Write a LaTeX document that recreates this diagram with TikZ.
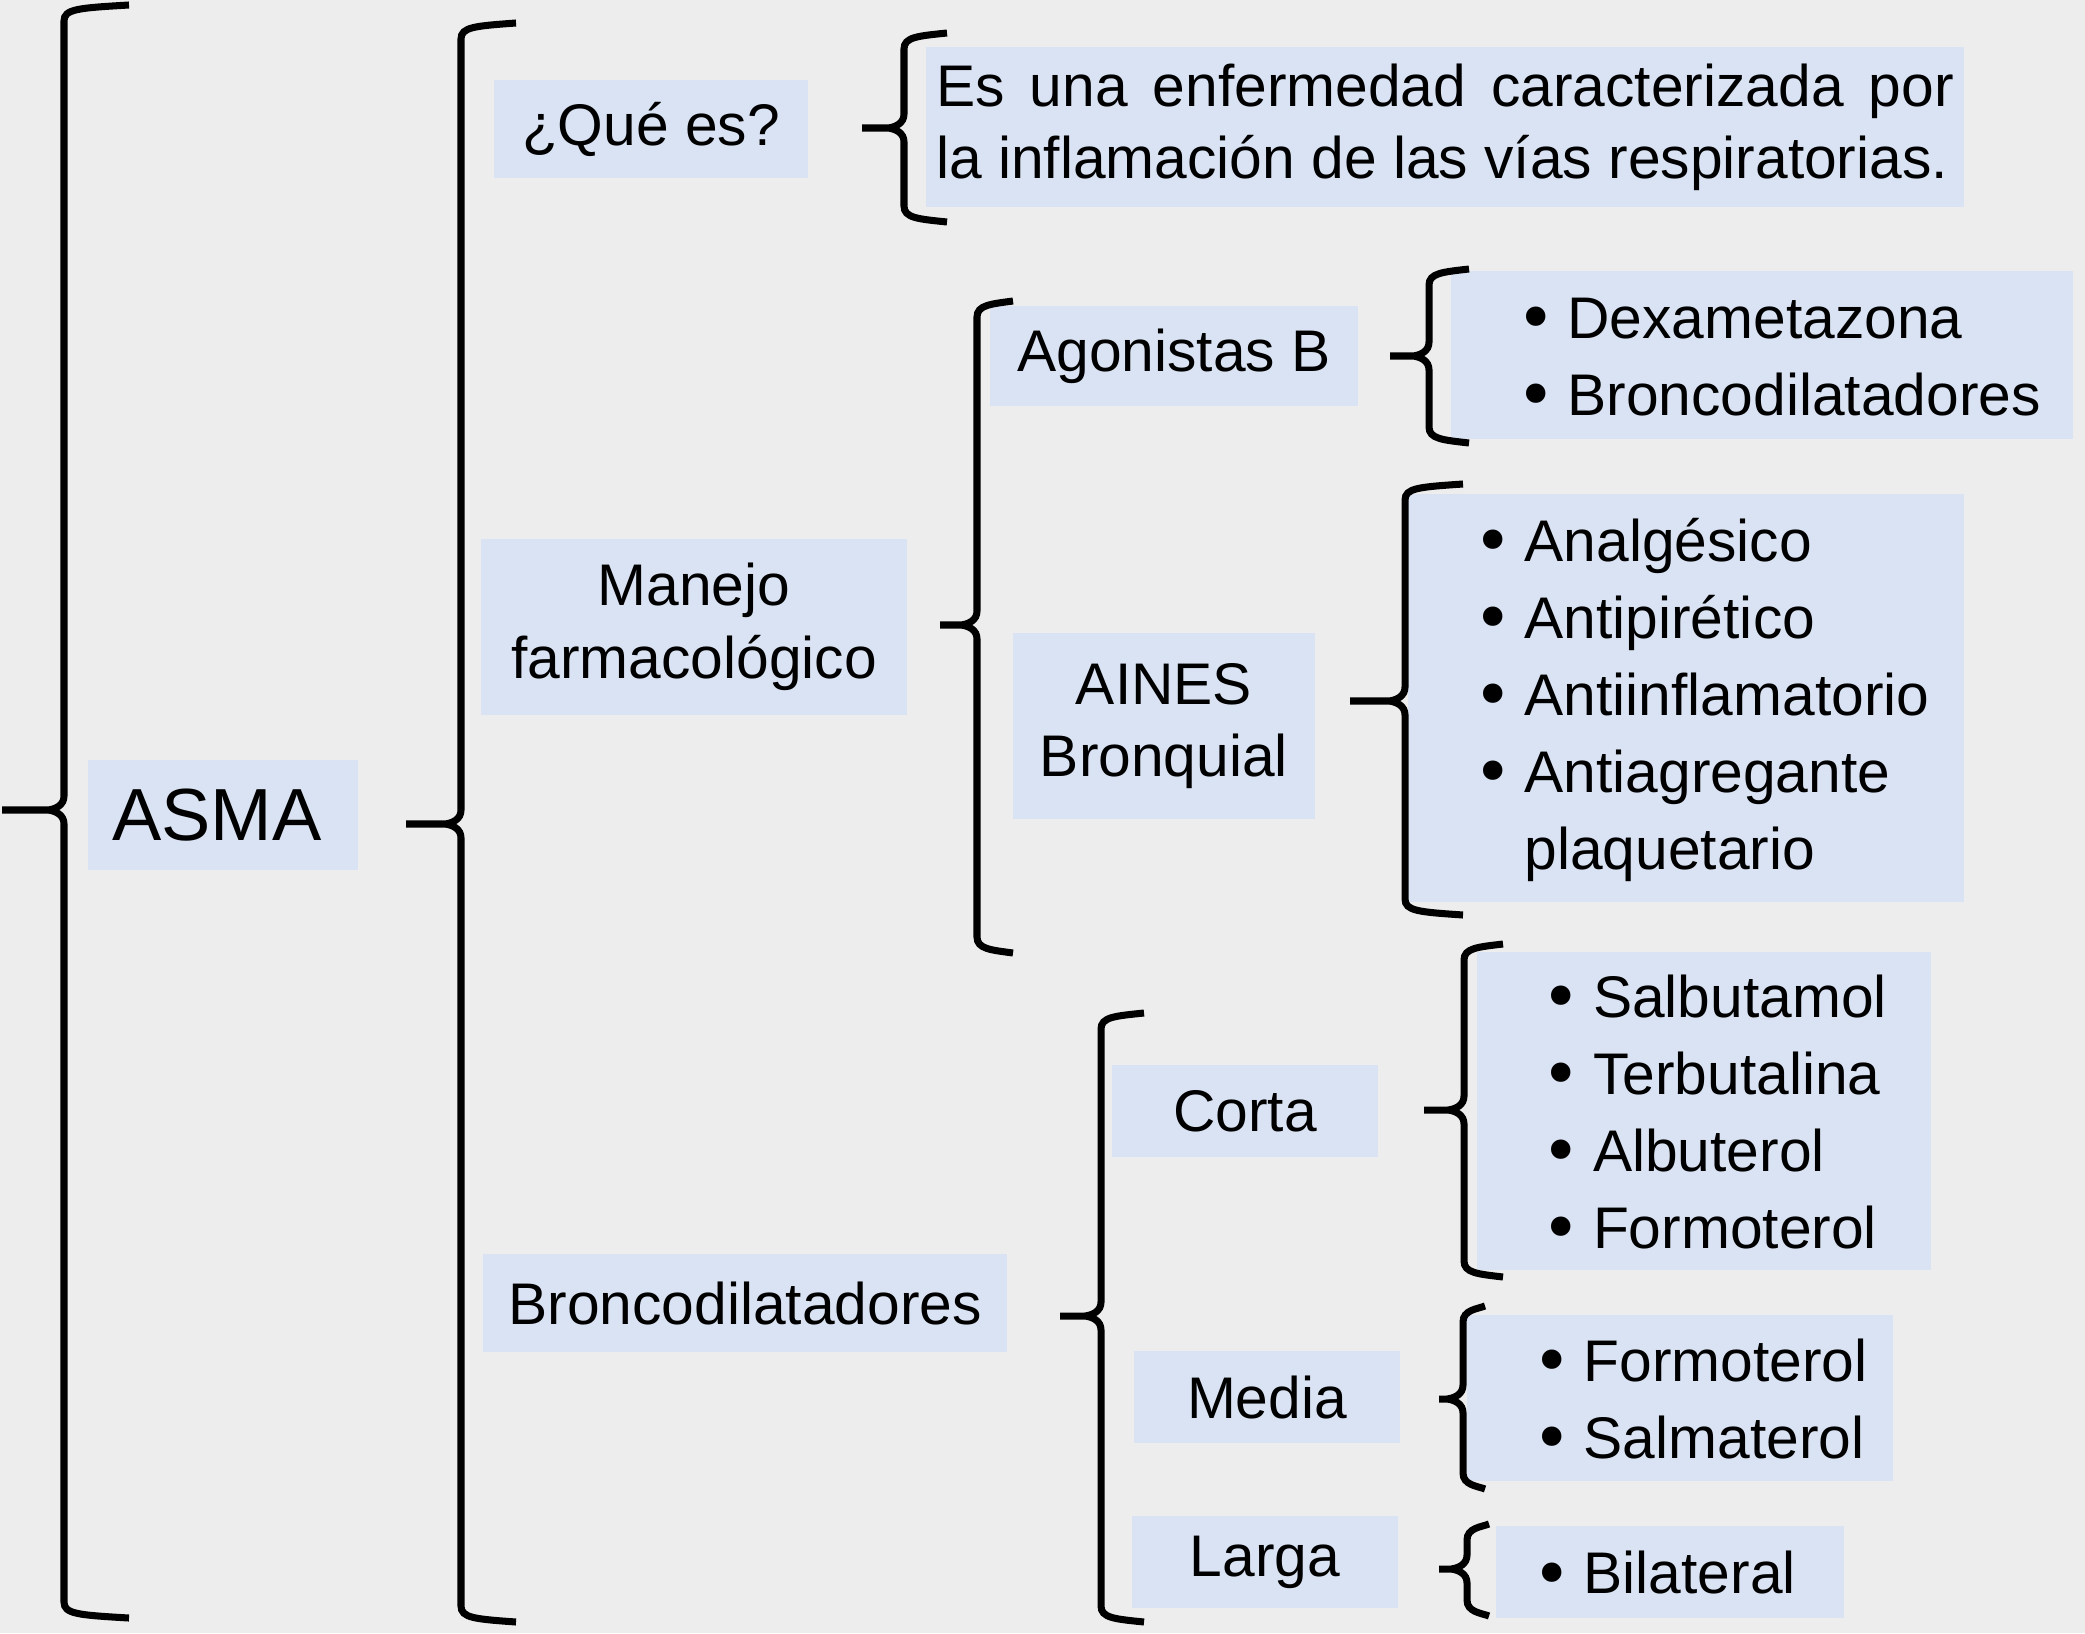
\documentclass[tikz,border=0pt]{standalone}
\usepackage{fontspec}
\setmainfont{Liberation Sans}
\newfontfamily\fuentepunto{DejaVu Sans}
\usepackage{xcolor}
\definecolor{fondo}{HTML}{EDEDED}
\definecolor{azulcaja}{HTML}{DAE3F3}
\newlength\sangria
\setlength\sangria{0.55cm}
\newcommand\punto{\raisebox{-1pt}{\fontsize{19}{19}\fuentepunto •}}
\newcommand\vineta{\hspace*{\sangria}\rule{0pt}{0.8em}\punto\hspace{0.2em}}
\newcommand\sigue{\hspace*{\sangria}\phantom{\punto}\hspace{0.2em}}
% llave: x linea, y arriba, y abajo, y punta, x punta, x extremos
\newcommand\llave[6]{%
  \draw[llavelinea] (#6,#2) .. controls ({#1+14},{#2+3}) and (#1,{#2+4}) .. (#1,{#2+16})
    -- (#1,{#4-14}) .. controls (#1,{#4-5}) and ({#1-8},{#4-1}) .. ({#1-16},#4) -- (#5,#4)
    (#5,#4) -- ({#1-16},#4) .. controls ({#1-8},{#4+1}) and (#1,{#4+5}) .. (#1,{#4+14})
    -- (#1,{#3-16}) .. controls (#1,{#3-4}) and ({#1+14},{#3-3}) .. (#6,#3);}

\begin{document}
\begin{tikzpicture}[x=0.01cm, y=-0.01cm]
\tikzset{
    caja/.style={rectangle, fill=azulcaja, inner xsep=0.1cm, inner ysep=0.1cm, align=center, font=\fontsize{16.7}{20.7}\selectfont},
    lista/.style={caja, align=left, font=\fontsize{16.7}{21.9}\selectfont},
    llavelinea/.style={draw=black, line width=2pt, line cap=butt}
}
\useasboundingbox (0,0) rectangle (2085,1633);
\fill[fondo] (0,0) rectangle (2085,1633);

\node[caja, minimum width=2.69cm, minimum height=1.09cm, font=\fontsize{21}{25}\selectfont] (asma) at (223,815) {ASMA\hspace{0.12cm}};

% primer nivel
\node[caja, minimum width=3.13cm, minimum height=0.98cm] (quees) at (651,129) {¿Qué es?};
\node[caja, minimum width=4.26cm, minimum height=1.76cm] (manejo) at (694,627) {Manejo\\farmacológico};
\node[caja, minimum width=5.24cm, minimum height=0.98cm] (bronco) at (745,1303) {Broncodilatadores};

\node[caja, align=justify, text width=10.17cm, inner xsep=0.1cm, minimum height=1.60cm, font=\fontsize{16.7}{20.5}\selectfont] (definicion) at (1445,127)
    {Es una enfermedad caracterizada por\linebreak la inflamación de las vías respiratorias.};

% manejo farmacologico
\node[caja, minimum width=3.67cm, minimum height=0.99cm] (agonistas) at (1174,356) {Agonistas B};
\node[caja, minimum width=3.02cm, minimum height=1.86cm] (aines) at (1164,726) {AINES\\Bronquial};
\node[lista, text width=6.01cm, minimum height=1.68cm] (dexa) at (1762,355)
    {\vineta Dexametazona\\\vineta Broncodilatadores};
\node[lista, text width=5.35cm, minimum height=4.07cm] (analg) at (1686,698)
    {\vineta Analgésico\\\vineta Antipirético\\\vineta Antiinflamatorio\\\vineta Antiagregante\\\sigue plaquetario};

% broncodilatadores
\node[caja, minimum width=2.66cm, minimum height=0.92cm] (corta) at (1245,1111) {Corta};
\node[caja, minimum width=2.66cm, minimum height=0.91cm] (media) at (1267,1397) {Media};
\node[caja, minimum width=2.65cm, minimum height=0.91cm] (larga) at (1265,1562) {Larga};
\node[lista, text width=4.34cm, minimum height=3.17cm] (salbu) at (1704,1111)
    {\vineta Salbutamol\\\vineta Terbutalina\\\vineta Albuterol\\\vineta Formoterol};
\node[lista, text width=4.05cm, minimum height=1.66cm] (formo) at (1680,1398)
    {\vineta Formoterol\\\vineta Salmaterol};
\node[lista, text width=3.27cm, minimum height=0.92cm] (bilat) at (1670,1572)
    {\setlength\sangria{0.26cm}\vineta Bilateral};

% llaves
\llave{64}{5}{1618}{810}{2}{129}
\llave{461}{23}{1622}{824}{406}{516}
\llave{904}{33}{222}{128}{862}{947}
\llave{977}{301}{953}{625}{940}{1013}
\llave{1429}{269}{443}{356}{1390}{1469}
\llave{1405}{484}{915}{701}{1350}{1463}
\llave{1101}{1013}{1622}{1316}{1060}{1144}
\llave{1464}{944}{1277}{1110}{1424}{1503}
\llave{1463}{1306}{1489}{1399}{1439}{1485}
\llave{1467}{1524}{1616}{1569}{1439}{1489}

\end{tikzpicture}
\end{document}
